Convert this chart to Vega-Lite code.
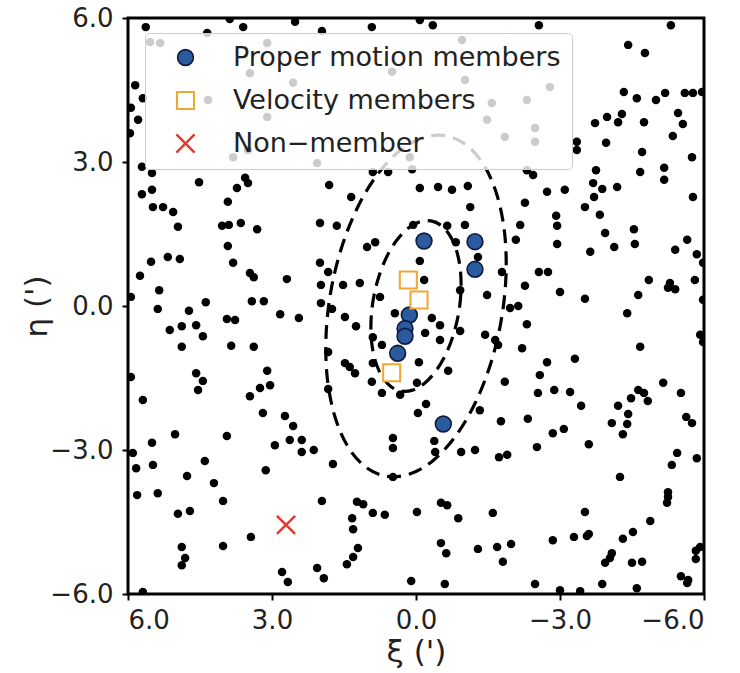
{
  "$schema": "https://vega.github.io/schema/vega-lite/v6.json",
  "width": 576,
  "height": 576,
  "autosize": {"type": "none"},
  "padding": {"left": 128, "top": 18, "right": 36, "bottom": 79},
  "background": "white",
  "config": {
    "view": {"stroke": "black", "strokeWidth": 3},
    "font": "DejaVu Sans",
    "axis": {
      "domain": false, "grid": false,
      "tickColor": "black", "tickWidth": 2, "tickSize": 6,
      "labelFont": "DejaVu Sans", "labelFontSize": 26, "labelColor": "#222222",
      "titleFont": "DejaVu Sans", "titleFontSize": 31, "titleFontWeight": "normal", "titleColor": "#222222"
    },
    "legend": {
      "orient": "none", "legendX": 17, "legendY": 15,
      "fillColor": "rgba(255,255,255,0.8)", "strokeColor": "#cccccc", "cornerRadius": 4,
      "padding": 11, "rowPadding": 15, "labelOffset": 34, "symbolOffset": 16,
      "labelFont": "DejaVu Sans", "labelFontSize": 27, "labelColor": "#222222",
      "labelLimit": 500, "titleFontSize": 0
    }
  },
  "datasets": {
    "bg": [
      {"xi":5.63,"eta":5.81},{"xi":3.88,"eta":5.98},{"xi":3.60,"eta":5.81},{"xi":2.52,"eta":5.92},{"xi":1.96,"eta":5.73},
      {"xi":4.35,"eta":5.69},{"xi":5.85,"eta":4.60},{"xi":5.94,"eta":4.13},{"xi":5.79,"eta":3.88},{"xi":5.96,"eta":3.60},
      {"xi":5.71,"eta":2.90},{"xi":5.50,"eta":2.77},{"xi":4.52,"eta":2.58},{"xi":3.56,"eta":2.67},{"xi":3.50,"eta":2.56},
      {"xi":3.73,"eta":2.46},{"xi":5.71,"eta":2.33},{"xi":5.50,"eta":2.42},{"xi":3.92,"eta":2.17},{"xi":2.06,"eta":2.98},
      {"xi":1.81,"eta":2.52},{"xi":1.35,"eta":2.27},{"xi":0.92,"eta":5.81},{"xi":-0.08,"eta":5.96},{"xi":-0.35,"eta":5.85},
      {"xi":-2.56,"eta":5.85},{"xi":-3.35,"eta":3.42},{"xi":-3.35,"eta":3.25},{"xi":0.90,"eta":2.79},{"xi":0.58,"eta":2.79},
      {"xi":0.08,"eta":2.85},{"xi":-2.31,"eta":2.83},{"xi":-2.44,"eta":2.73},{"xi":-0.08,"eta":2.46},{"xi":-0.46,"eta":2.48},
      {"xi":-0.75,"eta":2.42},{"xi":-1.08,"eta":2.50},{"xi":-2.73,"eta":2.38},{"xi":-3.10,"eta":2.42},{"xi":-2.27,"eta":2.15},
      {"xi":-1.13,"eta":2.06},{"xi":5.48,"eta":2.06},{"xi":5.27,"eta":2.06},{"xi":5.06,"eta":1.96},{"xi":4.96,"eta":1.65},
      {"xi":4.04,"eta":1.67},{"xi":3.90,"eta":1.69},{"xi":3.65,"eta":1.73},{"xi":3.31,"eta":1.60},{"xi":2.00,"eta":1.73},
      {"xi":1.65,"eta":1.67},{"xi":3.92,"eta":1.25},{"xi":3.81,"eta":0.90},{"xi":5.52,"eta":0.92},{"xi":5.17,"eta":1.02},
      {"xi":4.92,"eta":0.98},{"xi":5.75,"eta":0.63},{"xi":5.35,"eta":0.33},{"xi":5.94,"eta":0.19},{"xi":3.46,"eta":0.69},
      {"xi":3.38,"eta":0.60},{"xi":2.69,"eta":0.56},{"xi":2.00,"eta":0.90},{"xi":1.83,"eta":0.71},{"xi":1.98,"eta":0.44},
      {"xi":1.52,"eta":0.44},{"xi":5.38,"eta":-0.06},{"xi":4.73,"eta":-0.10},{"xi":4.38,"eta":0.08},{"xi":3.42,"eta":0.10},
      {"xi":3.17,"eta":0.10},{"xi":1.98,"eta":0.06},{"xi":1.75,"eta":-0.06},{"xi":1.48,"eta":-0.23},{"xi":1.25,"eta":-0.42},
      {"xi":5.13,"eta":-0.50},{"xi":4.88,"eta":-0.42},{"xi":4.58,"eta":-0.40},{"xi":4.44,"eta":-0.63},{"xi":3.94,"eta":-0.27},
      {"xi":3.77,"eta":-0.29},{"xi":2.83,"eta":-0.17},{"xi":2.44,"eta":-0.25},{"xi":4.88,"eta":-0.85},{"xi":3.85,"eta":-0.83},
      {"xi":3.38,"eta":-0.85},{"xi":1.83,"eta":-0.96},{"xi":1.48,"eta":-1.19},{"xi":1.38,"eta":-1.27},{"xi":1.27,"eta":-1.40},
      {"xi":4.58,"eta":-1.40},{"xi":4.44,"eta":-1.56},{"xi":4.54,"eta":-1.75},{"xi":3.10,"eta":-1.35},{"xi":3.04,"eta":-1.65},
      {"xi":3.25,"eta":-1.71},{"xi":3.46,"eta":-1.88},{"xi":5.94,"eta":-1.48},{"xi":5.69,"eta":-1.96},{"xi":1.83,"eta":-1.73},
      {"xi":-2.92,"eta":1.88},{"xi":-2.94,"eta":1.67},{"xi":-2.94,"eta":1.29},{"xi":-2.17,"eta":1.69},{"xi":-2.08,"eta":1.38},
      {"xi":-1.02,"eta":1.69},{"xi":-0.65,"eta":1.67},{"xi":0.06,"eta":1.69},{"xi":0.85,"eta":1.33},{"xi":1.02,"eta":1.23},
      {"xi":-0.08,"eta":0.94},{"xi":-0.17,"eta":0.54},{"xi":1.17,"eta":0.48},{"xi":0.75,"eta":0.19},{"xi":-0.92,"eta":0.33},
      {"xi":-0.83,"eta":1.33},{"xi":-1.29,"eta":1.02},{"xi":-1.79,"eta":0.71},{"xi":-2.56,"eta":0.71},{"xi":-2.75,"eta":0.71},
      {"xi":-2.27,"eta":0.42},{"xi":-3.00,"eta":0.29},{"xi":-1.48,"eta":0.23},{"xi":-1.96,"eta":-0.04},{"xi":-2.13,"eta":0.00},
      {"xi":-0.33,"eta":-0.25},{"xi":-0.50,"eta":-0.40},{"xi":-0.92,"eta":-0.52},{"xi":-0.19,"eta":-0.56},{"xi":-2.31,"eta":-0.38},
      {"xi":-1.44,"eta":-0.60},{"xi":-1.65,"eta":-0.71},{"xi":-1.71,"eta":-0.81},{"xi":0.90,"eta":-0.65},{"xi":0.71,"eta":-0.81},
      {"xi":0.44,"eta":-0.15},{"xi":-0.50,"eta":-0.71},{"xi":-2.21,"eta":-0.88},{"xi":-0.06,"eta":-1.17},{"xi":-0.67,"eta":-1.35},
      {"xi":-2.73,"eta":-1.17},{"xi":-3.31,"eta":-1.10},{"xi":-2.58,"eta":-1.44},{"xi":0.90,"eta":-1.19},{"xi":0.92,"eta":-1.58},
      {"xi":0.71,"eta":-1.81},{"xi":0.33,"eta":-1.85},{"xi":-0.02,"eta":-1.60},{"xi":-1.85,"eta":-1.58},{"xi":-2.54,"eta":-1.81},
      {"xi":-2.88,"eta":-1.75},{"xi":-3.21,"eta":-1.79},{"xi":3.19,"eta":-2.23},{"xi":2.73,"eta":-2.29},{"xi":2.56,"eta":-2.50},
      {"xi":5.02,"eta":-2.67},{"xi":3.94,"eta":-2.71},{"xi":5.50,"eta":-2.85},{"xi":2.94,"eta":-2.90},{"xi":2.63,"eta":-2.79},
      {"xi":2.38,"eta":-2.79},{"xi":2.38,"eta":-3.04},{"xi":2.13,"eta":-3.00},{"xi":5.90,"eta":-3.06},{"xi":5.83,"eta":-3.38},
      {"xi":5.48,"eta":-3.31},{"xi":4.40,"eta":-3.23},{"xi":4.77,"eta":-3.54},{"xi":3.13,"eta":-3.42},{"xi":1.73,"eta":-3.29},
      {"xi":4.21,"eta":-3.69},{"xi":4.02,"eta":-4.06},{"xi":5.81,"eta":-3.94},{"xi":5.38,"eta":-3.90},{"xi":4.96,"eta":-4.33},
      {"xi":4.71,"eta":-4.27},{"xi":1.96,"eta":-4.06},{"xi":1.33,"eta":-4.42},{"xi":1.31,"eta":-4.65},{"xi":3.44,"eta":-4.81},
      {"xi":4.02,"eta":-5.00},{"xi":4.88,"eta":-5.02},{"xi":4.81,"eta":-5.25},{"xi":4.88,"eta":-5.40},{"xi":1.31,"eta":-5.23},
      {"xi":1.44,"eta":-5.38},{"xi":2.79,"eta":-5.54},{"xi":2.67,"eta":-5.75},{"xi":2.06,"eta":-5.46},{"xi":1.92,"eta":-5.67},
      {"xi":5.69,"eta":-5.96},{"xi":-0.21,"eta":-2.04},{"xi":-0.04,"eta":-2.23},{"xi":0.48,"eta":-2.75},{"xi":0.48,"eta":-2.96},
      {"xi":-0.38,"eta":-2.81},{"xi":-0.40,"eta":-3.04},{"xi":-1.33,"eta":-2.17},{"xi":-1.77,"eta":-2.40},{"xi":-2.33,"eta":-2.35},
      {"xi":-0.94,"eta":-3.04},{"xi":-1.23,"eta":-3.00},{"xi":-1.73,"eta":-3.15},{"xi":-1.90,"eta":-3.10},{"xi":-2.85,"eta":-2.65},
      {"xi":-3.08,"eta":-2.56},{"xi":-2.52,"eta":-2.94},{"xi":0.48,"eta":-3.56},{"xi":1.23,"eta":-4.08},{"xi":1.10,"eta":-4.13},
      {"xi":0.90,"eta":-4.31},{"xi":0.65,"eta":-4.35},{"xi":1.21,"eta":-5.04},{"xi":-0.02,"eta":-4.29},{"xi":-0.52,"eta":-4.10},
      {"xi":-0.65,"eta":-4.15},{"xi":-0.88,"eta":-4.42},{"xi":-1.60,"eta":-4.31},{"xi":-0.52,"eta":-4.94},{"xi":-0.63,"eta":-5.15},
      {"xi":-1.29,"eta":-5.06},{"xi":-1.69,"eta":-5.02},{"xi":-1.98,"eta":-4.96},{"xi":-1.81,"eta":-5.33},{"xi":-2.85,"eta":-4.88},
      {"xi":-3.29,"eta":-4.81},{"xi":0.10,"eta":-5.73},{"xi":-0.60,"eta":-5.79},{"xi":-2.48,"eta":-5.79},{"xi":-3.00,"eta":-5.92},
      {"xi":-3.42,"eta":-5.94},{"xi":-5.31,"eta":5.85},{"xi":-4.42,"eta":5.44},{"xi":-4.77,"eta":5.27},{"xi":-4.33,"eta":4.46},
      {"xi":-4.60,"eta":4.33},{"xi":-5.00,"eta":4.29},{"xi":-5.19,"eta":4.44},{"xi":-5.60,"eta":4.44},{"xi":-5.77,"eta":4.44},
      {"xi":-5.96,"eta":4.46},{"xi":-4.29,"eta":4.00},{"xi":-4.21,"eta":3.83},{"xi":-3.98,"eta":3.94},{"xi":-3.73,"eta":3.81},
      {"xi":-4.75,"eta":3.83},{"xi":-5.46,"eta":4.02},{"xi":-5.56,"eta":3.79},{"xi":-5.35,"eta":3.54},{"xi":-3.96,"eta":3.40},
      {"xi":-4.71,"eta":3.21},{"xi":-5.75,"eta":3.10},{"xi":-3.75,"eta":2.83},{"xi":-4.67,"eta":2.79},{"xi":-5.17,"eta":2.88},
      {"xi":-5.17,"eta":2.63},{"xi":-3.69,"eta":2.56},{"xi":-3.88,"eta":2.44},{"xi":-3.71,"eta":2.27},{"xi":-4.19,"eta":2.48},
      {"xi":-3.52,"eta":2.06},{"xi":-5.77,"eta":2.27},{"xi":-3.83,"eta":1.90},{"xi":-4.54,"eta":1.60},{"xi":-4.56,"eta":1.29},
      {"xi":-3.94,"eta":1.52},{"xi":-4.13,"eta":1.23},{"xi":-3.63,"eta":1.13},{"xi":-5.65,"eta":1.38},{"xi":-5.40,"eta":1.17},
      {"xi":-5.85,"eta":1.08},{"xi":-5.98,"eta":0.90},{"xi":-4.85,"eta":0.54},{"xi":-5.29,"eta":0.48},{"xi":-5.25,"eta":0.38},
      {"xi":-5.40,"eta":0.35},{"xi":-5.81,"eta":0.54},{"xi":-3.52,"eta":0.15},{"xi":-4.63,"eta":0.23},{"xi":-5.98,"eta":0.13},
      {"xi":-4.40,"eta":-0.15},{"xi":-5.92,"eta":-0.60},{"xi":-5.98,"eta":-0.75},{"xi":-4.67,"eta":-0.85},{"xi":-5.15,"eta":-1.60},
      {"xi":-4.63,"eta":-1.75},{"xi":-4.75,"eta":-1.81},{"xi":-4.48,"eta":-1.92},{"xi":-4.83,"eta":-1.98},{"xi":-5.52,"eta":-1.81},
      {"xi":-3.44,"eta":-2.08},{"xi":-4.21,"eta":-2.08},{"xi":-4.42,"eta":-2.25},{"xi":-4.40,"eta":-2.46},{"xi":-4.08,"eta":-2.44},
      {"xi":-5.63,"eta":-2.31},{"xi":-5.75,"eta":-2.44},{"xi":-4.31,"eta":-2.67},{"xi":-3.60,"eta":-2.88},{"xi":-5.44,"eta":-3.06},
      {"xi":-5.85,"eta":-3.17},{"xi":-5.33,"eta":-3.31},{"xi":-4.25,"eta":-3.56},{"xi":-5.25,"eta":-3.88},{"xi":-5.25,"eta":-3.98},
      {"xi":-5.23,"eta":-4.10},{"xi":-3.52,"eta":-4.29},{"xi":-4.88,"eta":-4.48},{"xi":-3.56,"eta":-4.79},{"xi":-3.60,"eta":-4.75},
      {"xi":-4.52,"eta":-4.71},{"xi":-4.31,"eta":-4.85},{"xi":-4.08,"eta":-5.15},{"xi":-4.04,"eta":-5.25},{"xi":-3.94,"eta":-5.35},
      {"xi":-4.50,"eta":-5.35},{"xi":-4.71,"eta":-5.33},{"xi":-5.83,"eta":-5.10},{"xi":-5.92,"eta":-5.02},{"xi":-5.83,"eta":-5.27},
      {"xi":-5.52,"eta":-5.63},{"xi":-5.67,"eta":-5.71},{"xi":-5.65,"eta":-5.77},{"xi":-3.88,"eta":-5.79},{"xi":-4.60,"eta":-5.88},
      {"xi":5.54,"eta":5.50},{"xi":5.33,"eta":5.48},{"xi":5.69,"eta":4.33},{"xi":4.33,"eta":4.29},{"xi":3.46,"eta":4.85},
      {"xi":3.10,"eta":5.48},{"xi":2.56,"eta":4.65},{"xi":3.10,"eta":3.94},{"xi":3.50,"eta":3.25},{"xi":3.81,"eta":3.10},
      {"xi":-0.96,"eta":5.54},{"xi":0.50,"eta":4.88},{"xi":-1.02,"eta":4.71},{"xi":-2.79,"eta":4.56},{"xi":-1.58,"eta":4.23},
      {"xi":-2.31,"eta":4.29},{"xi":-1.48,"eta":3.88},{"xi":-1.85,"eta":3.52},{"xi":-2.48,"eta":3.42},{"xi":-2.48,"eta":3.71},
      {"xi":0.13,"eta":3.10}
    ],
    "ell": [
      {"e":"outer","i":0,"xi":-0.625,"eta":3.545},{"e":"outer","i":1,"xi":-0.145,"eta":3.505},{"e":"outer","i":2,"xi":0.345,"eta":3.227},
      {"e":"outer","i":3,"xi":0.812,"eta":2.728},{"e":"outer","i":4,"xi":1.223,"eta":2.043},{"e":"outer","i":5,"xi":1.550,"eta":1.219},
      {"e":"outer","i":6,"xi":1.773,"eta":0.313},{"e":"outer","i":7,"xi":1.874,"eta":-0.616},{"e":"outer","i":8,"xi":1.848,"eta":-1.502},
      {"e":"outer","i":9,"xi":1.695,"eta":-2.286},{"e":"outer","i":10,"xi":1.428,"eta":-2.914},{"e":"outer","i":11,"xi":1.063,"eta":-3.344},
      {"e":"outer","i":12,"xi":0.625,"eta":-3.545},{"e":"outer","i":13,"xi":0.145,"eta":-3.505},{"e":"outer","i":14,"xi":-0.345,"eta":-3.227},
      {"e":"outer","i":15,"xi":-0.812,"eta":-2.728},{"e":"outer","i":16,"xi":-1.223,"eta":-2.043},{"e":"outer","i":17,"xi":-1.550,"eta":-1.219},
      {"e":"outer","i":18,"xi":-1.773,"eta":-0.313},{"e":"outer","i":19,"xi":-1.874,"eta":0.616},{"e":"outer","i":20,"xi":-1.848,"eta":1.502},
      {"e":"outer","i":21,"xi":-1.695,"eta":2.286},{"e":"outer","i":22,"xi":-1.428,"eta":2.914},{"e":"outer","i":23,"xi":-1.063,"eta":3.344},
      {"e":"inner","i":0,"xi":-0.313,"eta":1.773},{"e":"inner","i":1,"xi":-0.073,"eta":1.753},{"e":"inner","i":2,"xi":0.173,"eta":1.614},
      {"e":"inner","i":3,"xi":0.406,"eta":1.364},{"e":"inner","i":4,"xi":0.612,"eta":1.022},{"e":"inner","i":5,"xi":0.775,"eta":0.610},
      {"e":"inner","i":6,"xi":0.887,"eta":0.157},{"e":"inner","i":7,"xi":0.937,"eta":-0.308},{"e":"inner","i":8,"xi":0.924,"eta":-0.751},
      {"e":"inner","i":9,"xi":0.848,"eta":-1.143},{"e":"inner","i":10,"xi":0.714,"eta":-1.457},{"e":"inner","i":11,"xi":0.532,"eta":-1.672},
      {"e":"inner","i":12,"xi":0.313,"eta":-1.773},{"e":"inner","i":13,"xi":0.073,"eta":-1.753},{"e":"inner","i":14,"xi":-0.173,"eta":-1.614},
      {"e":"inner","i":15,"xi":-0.406,"eta":-1.364},{"e":"inner","i":16,"xi":-0.612,"eta":-1.022},{"e":"inner","i":17,"xi":-0.775,"eta":-0.610},
      {"e":"inner","i":18,"xi":-0.887,"eta":-0.157},{"e":"inner","i":19,"xi":-0.937,"eta":0.308},{"e":"inner","i":20,"xi":-0.924,"eta":0.751},
      {"e":"inner","i":21,"xi":-0.848,"eta":1.143},{"e":"inner","i":22,"xi":-0.714,"eta":1.457},{"e":"inner","i":23,"xi":-0.532,"eta":1.672}
    ],
    "mem": [
      {"group":"Proper motion members","xi":-0.167,"eta":1.354},
      {"group":"Proper motion members","xi":-1.229,"eta":1.34},
      {"group":"Proper motion members","xi":-1.229,"eta":0.764},
      {"group":"Proper motion members","xi":0.139,"eta":-0.188},
      {"group":"Proper motion members","xi":0.229,"eta":-0.47},
      {"group":"Proper motion members","xi":0.229,"eta":-0.63},
      {"group":"Proper motion members","xi":0.382,"eta":-0.986},
      {"group":"Proper motion members","xi":-0.569,"eta":-2.458},
      {"group":"Velocity members","xi":0.16,"eta":0.541},
      {"group":"Velocity members","xi":-0.0625,"eta":0.125},
      {"group":"Velocity members","xi":0.507,"eta":-1.389},
      {"group":"Non−member","xi":2.708,"eta":-4.56}
    ]
  },
  "encoding": {
    "x": {"field": "xi", "type": "quantitative",
      "scale": {"domain": [-6, 6], "reverse": true, "nice": false, "zero": false},
      "axis": {"values": [6, 3, 0, -3, -6], "format": ".1f", "title": "ξ (')", "labelPadding": 7, "titlePadding": 4}},
    "y": {"field": "eta", "type": "quantitative",
      "scale": {"domain": [-6, 6], "nice": false, "zero": false},
      "axis": {"values": [6, 3, 0, -3, -6], "format": ".1f", "title": "η (')", "labelPadding": 9, "titlePadding": -4}}
  },
  "layer": [
    {
      "data": {"name": "bg"},
      "mark": {"type": "circle", "size": 72, "color": "black", "opacity": 1, "clip": true}
    },
    {
      "data": {"name": "ell"},
      "mark": {"type": "line", "interpolate": "cardinal-closed", "color": "black", "strokeWidth": 3.2, "strokeDash": [14, 8], "clip": true},
      "encoding": {"detail": {"field": "e"}, "order": {"field": "i", "type": "quantitative"}}
    },
    {
      "data": {"name": "mem"},
      "mark": {"type": "point", "filled": true, "opacity": 1},
      "encoding": {
        "fill": {"field": "group", "type": "nominal", "scale": {"domain": ["Proper motion members", "Velocity members", "Non−member"], "range": ["#2c5aa0", "white", "transparent"]}, "legend": {"title": null}},
        "stroke": {"field": "group", "type": "nominal", "scale": {"domain": ["Proper motion members", "Velocity members", "Non−member"], "range": ["#0d1b3d", "#f0a830", "#e8382e"]}, "legend": {"title": null}},
        "shape": {"field": "group", "type": "nominal", "scale": {"domain": ["Proper motion members", "Velocity members", "Non−member"], "range": ["circle", "square", "M-1,-1L1,1M-1,1L1,-1"]}, "legend": {"title": null}},
        "size": {"field": "group", "type": "nominal", "scale": {"domain": ["Proper motion members", "Velocity members", "Non−member"], "range": [250, 330, 380]}, "legend": {"title": null}},
        "strokeWidth": {"field": "group", "type": "nominal", "scale": {"domain": ["Proper motion members", "Velocity members", "Non−member"], "range": [1.6, 2.5, 2.5]}, "legend": {"title": null}}
      }
    }
  ]
}
